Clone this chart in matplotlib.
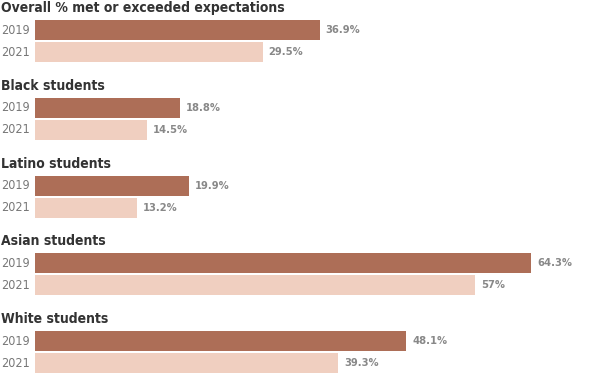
import matplotlib as mpl
mpl.use('Agg')
import matplotlib.pyplot as plt

groups = ['Overall % met or exceeded expectations', 'Black students',
          'Latino students', 'Asian students', 'White students']
years = ['2019', '2021']
vals_2019 = [36.9, 18.8, 19.9, 64.3, 48.1]
vals_2021 = [29.5, 14.5, 13.2, 57.0, 39.3]
labels_2019 = ['36.9%', '18.8%', '19.9%', '64.3%', '48.1%']
labels_2021 = ['29.5%', '14.5%', '13.2%', '57%', '39.3%']

dark = '#ad6e57'
light = '#f0cfc0'

fig = plt.figure(figsize=(6, 3.8), dpi=100)
ax = fig.add_axes([0, 0, 1, 1])
# x in data units, 0 at pixel 35, ~7.714 px per unit
scale = 7.714
ax.set_xlim(-35 / scale, 565 / scale)
ax.set_ylim(380, 0)
ax.axis('off')

fam = 'DejaVu Sans'
step = 77.8
for i, g in enumerate(groups):
    top = 8 + step * i
    y1 = top + 22
    y2 = top + 44
    ax.text(-34 / scale, top, g, fontsize=10, fontweight='bold', color='#333333',
            va='center', ha='left', family=fam, fontstretch='condensed')
    for y, v, lab, c, yr in [(y1, vals_2019[i], labels_2019[i], dark, years[0]),
                             (y2, vals_2021[i], labels_2021[i], light, years[1])]:
        ax.barh(y, v, height=20, left=0, color=c)
        ax.text(-34 / scale, y, yr, fontsize=9, color='#777777', va='center', ha='left',
                family=fam, fontstretch='condensed')
        ax.text(v + 6 / scale, y, lab, fontsize=8, fontweight='bold', color='#888888',
                va='center', ha='left', family=fam, fontstretch='condensed')

plt.savefig('out.png', dpi=100)
